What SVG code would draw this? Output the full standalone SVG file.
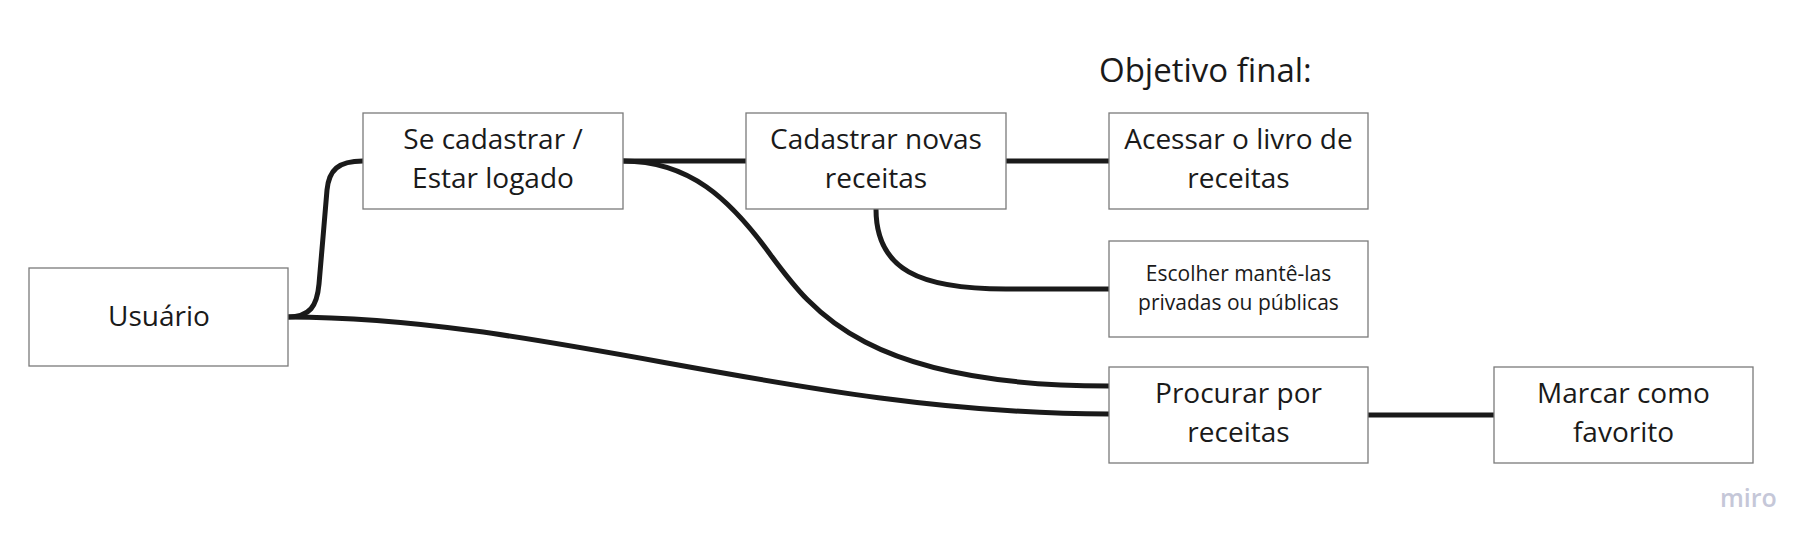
<svg xmlns="http://www.w3.org/2000/svg" width="1819" height="549" viewBox="0 0 1819 549">
  <style>
    .box { fill: #ffffff; stroke: #7a7a7a; stroke-width: 1.3; }
    .t { font-family: "Open Sans", "Liberation Sans", sans-serif; font-size: 28px; fill: #1a1a1a; text-anchor: middle; }
    .ts { font-family: "Open Sans", "Liberation Sans", sans-serif; font-size: 21px; fill: #1a1a1a; text-anchor: middle; }
    .c { fill: none; stroke: #1a1a1a; stroke-width: 5; stroke-linecap: butt; }
  </style>
  <rect width="1819" height="549" fill="#ffffff"/>
  <g id="connectors">
    <path class="c" d="M288,317 C310,317 317,306 319,284 C321,260 325,215 327,190 C329,170 338,161 363,161"/>
    <path class="c" d="M288,317 C550,317 800,414 1109,414"/>
    <path class="c" d="M623,161 L746,161"/>
    <path class="c" d="M623,161 C690,161 730,200 767,250 C810,308 860,386 1109,386"/>
    <path class="c" d="M876,209 C876,270 920,289 1006,289 L1109,289"/>
    <path class="c" d="M1006,161 L1109,161"/>
    <path class="c" d="M1368,415 L1494,415"/>
  </g>
  <g id="title">
    <text x="1099" y="82" font-family="'Open Sans', 'Liberation Sans', sans-serif" font-size="33" fill="#1a1a1a">Objetivo final:</text>
  </g>
  <g id="usuario">
    <rect class="box" x="29" y="268" width="259" height="98"/>
    <text class="t" x="159" y="326">Usuário</text>
  </g>
  <g id="cadastrar-logado">
    <rect class="box" x="363" y="113" width="260" height="96"/>
    <text class="t" x="493" y="149">Se cadastrar /</text>
    <text class="t" x="493" y="188">Estar logado</text>
  </g>
  <g id="cadastrar-receitas">
    <rect class="box" x="746" y="113" width="260" height="96"/>
    <text class="t" x="876" y="149">Cadastrar novas</text>
    <text class="t" x="876" y="188">receitas</text>
  </g>
  <g id="acessar-livro">
    <rect class="box" x="1109" y="113" width="259" height="96"/>
    <text class="t" x="1238.5" y="149">Acessar o livro de</text>
    <text class="t" x="1238.5" y="188">receitas</text>
  </g>
  <g id="escolher">
    <rect class="box" x="1109" y="241" width="259" height="96"/>
    <text class="ts" x="1238.5" y="281">Escolher mantê-las</text>
    <text class="ts" x="1238.5" y="310">privadas ou públicas</text>
  </g>
  <g id="procurar">
    <rect class="box" x="1109" y="367" width="259" height="96"/>
    <text class="t" x="1238.5" y="403">Procurar por</text>
    <text class="t" x="1238.5" y="442">receitas</text>
  </g>
  <g id="favorito">
    <rect class="box" x="1494" y="367" width="259" height="96"/>
    <text class="t" x="1623.5" y="403">Marcar como</text>
    <text class="t" x="1623.5" y="442">favorito</text>
  </g>
  <g id="logo">
    <text x="1720" y="507" font-family="'Open Sans', 'Liberation Sans', sans-serif" font-size="25" font-weight="600" fill="#c5c7d8">miro</text>
  </g>
</svg>
